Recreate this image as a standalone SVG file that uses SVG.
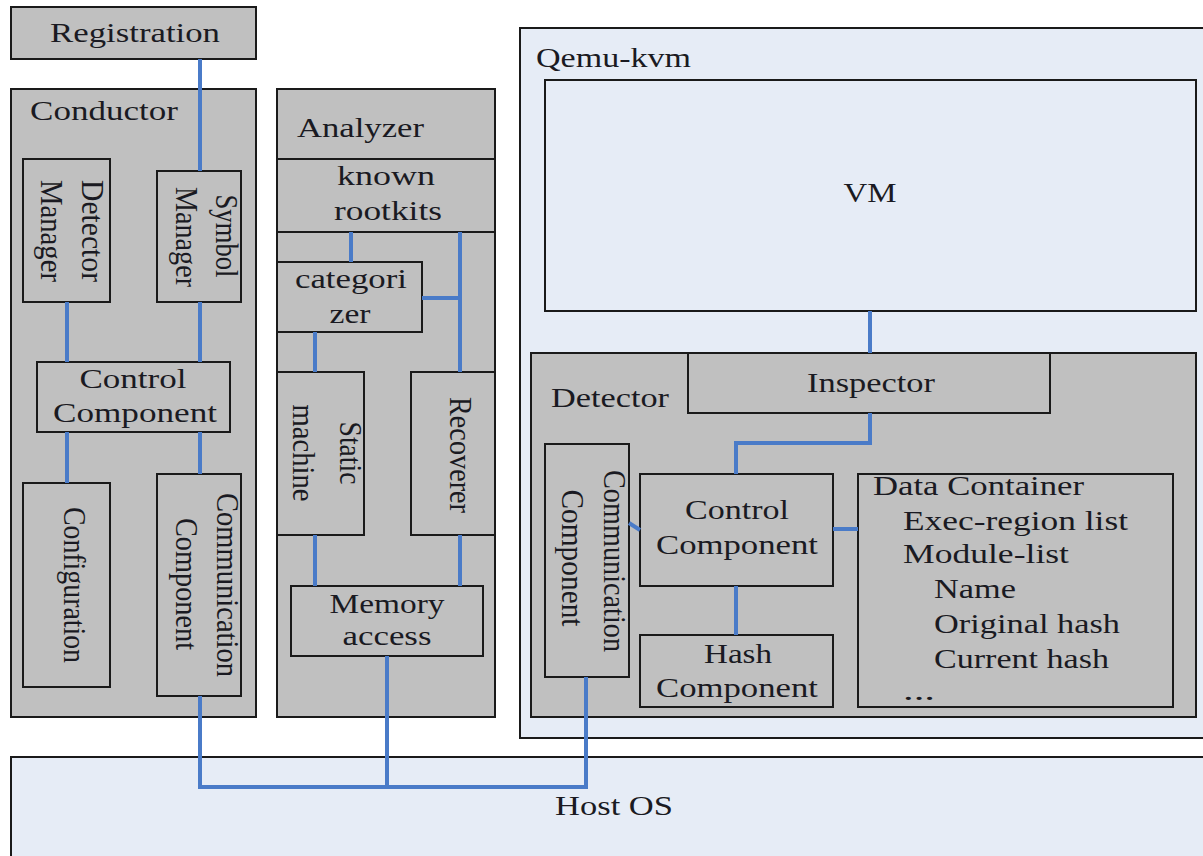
<svg xmlns="http://www.w3.org/2000/svg" width="1203" height="856" viewBox="0 0 1203 856">
<style>
.g{fill:#c0c0c0;stroke:#1a1a1a;stroke-width:2}
.b{fill:#e6ecf6;stroke:#1a1a1a;stroke-width:2}
.t{font-family:"Liberation Serif","Times New Roman",serif;font-size:27px;fill:#1a1a22}
.v{font-family:"Liberation Serif","Times New Roman",serif;font-size:32px;fill:#1a1a22}
.m{text-anchor:middle}
.c{fill:none;stroke:#4a7bc8;stroke-width:4}
</style>
<rect width="1203" height="856" fill="#ffffff"/>
<g id="hostos"><rect class="b" x="11" y="757" width="1200" height="110"/><text class="t m" x="614" y="815" textLength="118" lengthAdjust="spacingAndGlyphs">Host OS</text></g>
<g id="qemu"><rect class="b" x="520" y="28" width="700" height="710"/><text class="t" x="536" y="67" textLength="155" lengthAdjust="spacingAndGlyphs">Qemu-kvm</text></g>
<g id="vm"><rect class="b" x="545" y="80" width="651" height="231"/><text class="t m" x="870" y="202" textLength="53" lengthAdjust="spacingAndGlyphs">VM</text></g>
<g id="registration"><rect class="g" x="11" y="7" width="245" height="52"/><text class="t m" x="135" y="42" textLength="170" lengthAdjust="spacingAndGlyphs">Registration</text></g>
<g id="conductor"><rect class="g" x="11" y="89" width="245" height="628"/><text class="t" x="30" y="120" textLength="148" lengthAdjust="spacingAndGlyphs">Conductor</text></g>
<g id="detector-manager"><rect class="g" x="23" y="159" width="87" height="143"/>
<text class="v m" transform="translate(82,231) rotate(90)" textLength="102" lengthAdjust="spacingAndGlyphs">Detector</text>
<text class="v m" transform="translate(41,231) rotate(90)" textLength="102" lengthAdjust="spacingAndGlyphs">Manager</text></g>
<g id="symbol-manager"><rect class="g" x="157" y="171" width="84" height="131"/>
<text class="v m" transform="translate(216,236) rotate(90)" textLength="83" lengthAdjust="spacingAndGlyphs">Symbol</text>
<text class="v m" transform="translate(176,237) rotate(90)" textLength="100" lengthAdjust="spacingAndGlyphs">Manager</text></g>
<g id="conductor-control"><rect class="g" x="37" y="362" width="193" height="70"/>
<text class="t m" x="133" y="388" textLength="107" lengthAdjust="spacingAndGlyphs">Control</text>
<text class="t m" x="135" y="422" textLength="164" lengthAdjust="spacingAndGlyphs">Component</text></g>
<g id="configuration"><rect class="g" x="23" y="483" width="87" height="204"/>
<text class="v m" transform="translate(64,585) rotate(90)" textLength="156" lengthAdjust="spacingAndGlyphs">Configuration</text></g>
<g id="conductor-comm"><rect class="g" x="157" y="474" width="84" height="222"/>
<text class="v m" transform="translate(217,585) rotate(90)" textLength="184" lengthAdjust="spacingAndGlyphs">Communication</text>
<text class="v m" transform="translate(176,584) rotate(90)" textLength="132" lengthAdjust="spacingAndGlyphs">Component</text></g>
<g id="analyzer"><rect class="g" x="277" y="89" width="218" height="628"/><line x1="277" y1="159" x2="495" y2="159" stroke="#1a1a1a" stroke-width="2"/>
<text class="t" x="297" y="137" textLength="127" lengthAdjust="spacingAndGlyphs">Analyzer</text></g>
<g id="known-rootkits"><rect class="g" x="277" y="159" width="218" height="73"/>
<text class="t m" x="386" y="185" textLength="98" lengthAdjust="spacingAndGlyphs">known</text>
<text class="t m" x="388" y="220" textLength="108" lengthAdjust="spacingAndGlyphs">rootkits</text></g>
<g id="categorizer"><rect class="g" x="277" y="262" width="145" height="70"/>
<text class="t m" x="351" y="288" textLength="112" lengthAdjust="spacingAndGlyphs">categori</text>
<text class="t m" x="350" y="323" textLength="41" lengthAdjust="spacingAndGlyphs">zer</text></g>
<g id="static-machine"><rect class="g" x="277" y="372" width="87" height="163"/>
<text class="v m" transform="translate(340,453) rotate(90)" textLength="63" lengthAdjust="spacingAndGlyphs">Static</text>
<text class="v m" transform="translate(293,453) rotate(90)" textLength="97" lengthAdjust="spacingAndGlyphs">machine</text></g>
<g id="recoverer"><rect class="g" x="411" y="372" width="84" height="163"/>
<text class="v m" transform="translate(450,455) rotate(90)" textLength="116" lengthAdjust="spacingAndGlyphs">Recoverer</text></g>
<g id="memory-access"><rect class="g" x="291" y="586" width="192" height="70"/>
<text class="t m" x="387" y="613" textLength="115" lengthAdjust="spacingAndGlyphs">Memory</text>
<text class="t m" x="387" y="645" textLength="89" lengthAdjust="spacingAndGlyphs">access</text></g>
<g id="detector"><rect class="g" x="531" y="353" width="665" height="364"/>
<text class="t" x="551" y="407" textLength="118" lengthAdjust="spacingAndGlyphs">Detector</text></g>
<g id="inspector"><rect class="g" x="688" y="353" width="362" height="60"/>
<text class="t m" x="871" y="392" textLength="128" lengthAdjust="spacingAndGlyphs">Inspector</text></g>
<g id="detector-comm"><rect class="g" x="545" y="444" width="84" height="233"/>
<text class="v m" transform="translate(604,561) rotate(90)" textLength="182" lengthAdjust="spacingAndGlyphs">Communication</text>
<text class="v m" transform="translate(562,558) rotate(90)" textLength="137" lengthAdjust="spacingAndGlyphs">Component</text></g>
<g id="detector-control"><rect class="g" x="640" y="474" width="193" height="112"/>
<text class="t m" x="737" y="519" textLength="104" lengthAdjust="spacingAndGlyphs">Control</text>
<text class="t m" x="737" y="554" textLength="162" lengthAdjust="spacingAndGlyphs">Component</text></g>
<g id="hash"><rect class="g" x="640" y="635" width="193" height="72"/>
<text class="t m" x="738" y="663" textLength="68" lengthAdjust="spacingAndGlyphs">Hash</text>
<text class="t m" x="737" y="697" textLength="162" lengthAdjust="spacingAndGlyphs">Component</text></g>
<g id="data-container"><rect class="g" x="858" y="474" width="315" height="233"/>
<text class="t" x="873" y="495" textLength="211" lengthAdjust="spacingAndGlyphs">Data Container</text>
<text class="t" x="903" y="530" textLength="225" lengthAdjust="spacingAndGlyphs">Exec-region list</text>
<text class="t" x="903" y="563" textLength="166" lengthAdjust="spacingAndGlyphs">Module-list</text>
<text class="t" x="934" y="598" textLength="82" lengthAdjust="spacingAndGlyphs">Name</text>
<text class="t" x="934" y="633" textLength="186" lengthAdjust="spacingAndGlyphs">Original hash</text>
<text class="t" x="934" y="668" textLength="175" lengthAdjust="spacingAndGlyphs">Current hash</text>
<text class="t" x="903" y="700" textLength="32" lengthAdjust="spacingAndGlyphs">...</text></g>
<g id="connectors">
<path class="c" d="M200 59V171"/>
<path class="c" d="M67 302V362"/>
<path class="c" d="M200 302V362"/>
<path class="c" d="M67 432V483"/>
<path class="c" d="M200 432V474"/>
<path class="c" d="M351 232V262"/>
<path class="c" d="M460 232V372"/>
<path class="c" d="M422 298H460"/>
<path class="c" d="M315 332V372"/>
<path class="c" d="M315 535V586"/>
<path class="c" d="M460 535V586"/>
<path class="c" d="M200 696V787H586V677"/>
<path class="c" d="M387 656V787"/>
<path class="c" d="M870 311V353"/>
<path class="c" d="M870 413V443H736V474"/>
<path class="c" d="M736 586V635"/>
<path class="c" d="M833 529H858"/>
<path class="c" d="M629 523L640 530"/>
</g>
</svg>
